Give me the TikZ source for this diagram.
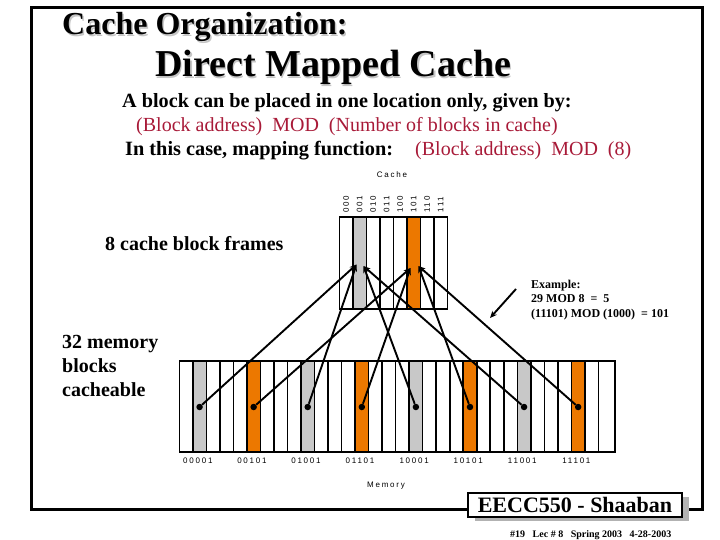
\documentclass[tikz,border=0pt]{standalone}
\usepackage{fontspec}
\setmainfont{Liberation Serif}
\newfontfamily\lblfont[LetterSpace=22]{Liberation Sans}
\usetikzlibrary{arrows.meta,shadows}
\definecolor{mapred}{RGB}{168, 26, 56}
\definecolor{frameorange}{RGB}{236, 120, 0}
\definecolor{framegray}{RGB}{200, 200, 200}
\tikzset{
  txt/.style={anchor=base west, inner sep=0pt},
  tiny/.style={inner sep=0pt, font=\lblfont\fontsize{8}{9}\selectfont},
  dot/.style={circle, fill=black, inner sep=0pt, minimum size=6.5pt},
  conn/.style={line width=1.9pt, -{Stealth[length=7pt,width=5.5pt]}},
}

\begin{document}
\begin{tikzpicture}[x=1pt, y=-1pt]
    \useasboundingbox (0,0) rectangle (720,540);

    % Outer frame
    \draw[line width=3pt] (31,8) rectangle (702,509);

    % Titles with shadow
    \node[txt, gray!45, font=\bfseries\fontsize{32}{36}\selectfont] (t1s) at (63.5,36.5) {Cache Organization:};
    \node[txt, font=\bfseries\fontsize{32}{36}\selectfont] (t1) at (62,35) {Cache Organization:};
    \node[txt, gray!45, font=\bfseries\fontsize{38}{42}\selectfont] (t2s) at (156.5,78.5) {Direct Mapped Cache};
    \node[txt, font=\bfseries\fontsize{38}{42}\selectfont] (t2) at (155,77) {Direct Mapped Cache};

    % Mapping rule
    \node[txt, font=\bfseries\fontsize{20.2}{24}\selectfont] (r1) at (122,108) {A block can be placed in one location only, given by:};
    \node[txt, mapred, font=\fontsize{20}{24}\selectfont] (r2) at (136,132) {(Block address)\ \ MOD\ \ (Number of blocks in cache)};
    \node[txt, font=\bfseries\fontsize{20.3}{24}\selectfont] (r3) at (125,156) {In this case, mapping function:};
    \node[txt, mapred, font=\fontsize{20}{24}\selectfont] (r4) at (415,156) {(Block address)\ \ MOD\ \ (8)};

    % Cache frames
    \fill[framegray] (339.3+1*13.5,217) rectangle ++(13.5,92);
    \fill[frameorange] (339.3+5*13.5,217) rectangle ++(13.5,92);
    \foreach \i/\bits in {0/000,1/001,2/010,3/011,4/100,5/101,6/110,7/111} {
        \draw[line width=1.6pt] (339.3+\i*13.5,217) rectangle ++(13.5,92);
        \node[tiny, rotate=90] (b\bits) at (339.3+\i*13.5+6.75,204.5) {\bits};
    }
    \node[tiny] (cachelbl) at (392,175) {Cache};
    \coordinate (c001l) at (356.5,264.5);
    \coordinate (c001r) at (363.5,266);
    \coordinate (c101l) at (410.5,268);
    \coordinate (c101r) at (418.5,266);

    % Memory frames
    \foreach \k/\fc in {1/framegray,5/frameorange,9/framegray,13/frameorange,17/framegray,21/frameorange,25/framegray,29/frameorange}
        \fill[\fc] (179.3+\k*13.52,361) rectangle ++(13.52,91);
    \draw[line width=1.6pt] (179.3,361) rectangle (615,452);
    \foreach \k in {1,...,31}
        \draw[line width=1.6pt] (179.3+\k*13.52,361) -- (179.3+\k*13.52,452);
    \foreach \k/\addr in {1/00001,5/00101,9/01001,13/01101,17/10001,21/10101,25/11001,29/11101} {
        \node[dot] (m\addr) at (179.3+\k*13.52+6.76,407) {};
        \node[tiny] (a\addr) at (179.3+\k*13.52+5,461) {\addr};
    }
    \node[tiny] (memlbl) at (386,486) {Memory};

    % Mapping connectors
    \draw[conn] (m00001) -- (c001l);
    \draw[conn] (m01001) -- (c001l);
    \draw[conn] (m10001) -- (c001r);
    \draw[conn] (m11001) -- (c001r);
    \draw[conn] (m00101) -- (c101l);
    \draw[conn] (m01101) -- (c101l);
    \draw[conn] (m10101) -- (c101r);
    \draw[conn] (m11101) -- (c101r);

    % Side labels
    \node[txt, font=\bfseries\fontsize{20}{24}\selectfont] (frames) at (105,250) {8 cache block frames};
    \node[txt, font=\bfseries\fontsize{20}{24}\selectfont] (mb1) at (62,348) {32 memory};
    \node[txt, font=\bfseries\fontsize{20}{24}\selectfont] (mb2) at (62,372) {blocks};
    \node[txt, font=\bfseries\fontsize{20}{24}\selectfont] (mb3) at (62,396) {cacheable};

    % Example
    \node[txt, font=\bfseries\fontsize{12}{14}\selectfont] (ex1) at (531,288) {Example:};
    \node[txt, font=\bfseries\fontsize{12}{14}\selectfont] (ex2) at (531,302) {29 MOD 8\ \ =\ \ 5};
    \node[txt, font=\bfseries\fontsize{12}{14}\selectfont] (ex3) at (531,317) {(11101) MOD (1000)\ \ = 101};
    \coordinate (exTail) at (516,289);
    \coordinate (exHead) at (490,318);
    \draw[line width=1.9pt, -{Stealth[length=7pt,width=6pt]}] (exTail) -- (exHead);

    % Footer box
    \node[draw, fill=white, line width=2pt, minimum width=214pt, minimum height=24pt, inner sep=0pt,
          drop shadow={shadow xshift=7pt, shadow yshift=-4pt, fill=gray!60, opacity=1},
          font=\bfseries\fontsize{22}{24}\selectfont] (badge) at (575,505) {EECC550 - Shaaban};
    \node[txt, font=\bfseries\fontsize{10}{12}\selectfont] (foot) at (510,537) {\#19\ \ \ Lec \# 8\ \ \ Spring 2003\ \ \ 4-28-2003};
\end{tikzpicture}
\end{document}
